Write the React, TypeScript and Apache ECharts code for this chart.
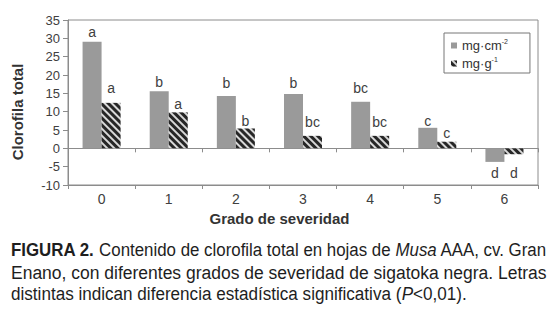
import React, { useEffect, useRef } from 'react';
import * as echarts from 'echarts';

const categories = ['0', '1', '2', '3', '4', '5', '6'];
const perArea = [29.1, 15.6, 14.3, 14.8, 12.7, 5.6, -3.7];
const perMass = [12.4, 9.8, 5.4, 3.4, 3.4, 1.8, -1.6];
const lettersArea = ['a', 'b', 'b', 'b', 'bc', 'c', 'd'];
const lettersMass = ['a', 'a', 'b', 'bc', 'bc', 'c', 'd'];
const seriesBase = ['mg·cm', 'mg·g'];
const seriesSup = ['-2', '-1'];
const seriesNames = ['mg·cm⁻²', 'mg·g⁻¹'];
const xTitle = 'Grado de severidad';
const yTitle = 'Clorofila total';

// label lift above/below bars (styling only)
const gapArea = [3, 2, 6, 4, 7, 0, 4];
const gapMass = [8, 1, 1, 7, 7, 2, 12];

type Seg = { t: string; s?: 'b' | 'i' };
const captionLines: Seg[][] = [
  [
    { t: 'FIGURA 2.', s: 'b' },
    { t: ' Contenido de clorofila total en hojas de ' },
    { t: 'Musa', s: 'i' },
    { t: ' AAA, cv. Gran' },
  ],
  [{ t: 'Enano, con diferentes grados de severidad de sigatoka negra. Letras' }],
  [
    { t: 'distintas indican diferencia estadística significativa (' },
    { t: 'P', s: 'i' },
    { t: '<0,01).' },
  ],
];

const FONT = '"Liberation Sans", Arial, sans-serif';
const CAP = 19;

export default function App() {
  const ref = useRef<HTMLDivElement>(null);
  useEffect(() => {
    const chart = echarts.init(ref.current!, null, { renderer: 'svg' });
    const ctx = document.createElement('canvas').getContext('2d')!;
    const measure = (segs: Seg[]) =>
      segs.reduce((w, s) => {
        ctx.font = `${s.s === 'i' ? 'italic ' : ''}${s.s === 'b' ? 'bold ' : ''}${CAP}px "Liberation Sans"`;
        return w + ctx.measureText(s.t).width;
      }, 0);
    const targets = [536, 536, 456];
    const ys = [250, 272, 294];
    const rich = {
      n: { fontSize: CAP, fontFamily: FONT, fill: '#1e1e1e' },
      b: { fontSize: CAP, fontFamily: FONT, fontWeight: 'bold', fill: '#1e1e1e' },
      i: { fontSize: CAP, fontFamily: FONT, fontStyle: 'italic', fill: '#1e1e1e' },
    };
    const graphic: any[] = captionLines.map((segs, i) => ({
      type: 'text',
      x: 11,
      y: ys[i],
      scaleX: targets[i] / measure(segs),
      style: {
        text: segs.map((s) => `{${s.s || 'n'}|${s.t}}`).join(''),
        rich,
        fontSize: CAP,
        fontFamily: FONT,
        fill: '#1e1e1e',
        align: 'left',
        verticalAlign: 'middle',
        textAlign: 'left',
        textVerticalAlign: 'middle',
      },
    }));
    graphic.push({
      type: 'text',
      x: 17,
      y: 112,
      rotation: Math.PI / 2,
      style: {
        text: yTitle,
        fontSize: 15,
        fontWeight: 'bold',
        fontFamily: FONT,
        fill: '#333',
        align: 'center',
        verticalAlign: 'middle',
        textAlign: 'center',
        textVerticalAlign: 'middle',
      },
    });

    const labelBase = { show: true, fontSize: 14, color: '#404040', fontFamily: FONT };
    const mkData = (vals: number[], gaps: number[]) =>
      vals.map((v, i) => ({
        value: v,
        label: { position: v < 0 ? 'bottom' : 'top', distance: gaps[i] },
      }));

    chart.setOption({
      animation: false,
      aria: { enabled: true, decal: { show: true } },
      grid: { left: 68, right: 14, top: 20, bottom: 127, show: true, borderColor: '#8c8c8c', borderWidth: 1 },
      legend: {
        left: 444,
        top: 33,
        orient: 'vertical',
        icon: 'rect',
        itemWidth: 6,
        itemHeight: 6,
        itemGap: 4,
        padding: [5, 22, 3, 7],
        borderColor: '#777',
        borderWidth: 1,
        data: seriesNames,
        formatter: (name: string) => {
          const i = seriesNames.indexOf(name);
          return `${seriesBase[i]}{s|${seriesSup[i]}}`;
        },
        textStyle: {
          fontSize: 13,
          color: '#333',
          fontFamily: FONT,
          rich: { s: { fontSize: 7, color: '#333', fontFamily: FONT, padding: [0, 0, 8, 0] } },
        },
      },
      xAxis: [
        {
          type: 'category',
          data: categories,
          position: 'bottom',
          axisLine: { show: true, onZero: false, lineStyle: { color: '#8c8c8c' } },
          axisTick: { show: true, length: 4, lineStyle: { color: '#8c8c8c' } },
          axisLabel: { fontSize: 14, color: '#404040', margin: 7, fontFamily: FONT },
          name: xTitle,
          nameLocation: 'middle',
          nameGap: 26,
          nameTextStyle: { fontWeight: 'bold', fontSize: 15, color: '#333', fontFamily: FONT, padding: [0, 47, 0, 0] },
        },
        {
          type: 'category',
          data: categories,
          position: 'bottom',
          axisLine: { show: true, onZero: true, lineStyle: { color: '#8c8c8c' } },
          axisTick: { show: true, length: 4, lineStyle: { color: '#8c8c8c' } },
          axisLabel: { show: false },
        },
      ],
      yAxis: {
        type: 'value',
        min: -10,
        max: 35,
        interval: 5,
        axisLine: { show: true, lineStyle: { color: '#8c8c8c' } },
        axisTick: { show: true, length: 5, lineStyle: { color: '#8c8c8c' } },
        splitLine: { show: false },
        axisLabel: { fontSize: 13, color: '#404040', margin: 8, fontFamily: FONT },
      },
      series: [
        {
          name: seriesNames[0],
          type: 'bar',
          xAxisIndex: 0,
          data: mkData(perArea, gapArea),
          barWidth: 19,
          barGap: '0%',
          itemStyle: { color: '#9a9a9a', decal: { symbol: 'none' } },
          label: { ...labelBase, formatter: (p: any) => lettersArea[p.dataIndex] },
        },
        {
          name: seriesNames[1],
          type: 'bar',
          xAxisIndex: 0,
          data: mkData(perMass, gapMass),
          barWidth: 19,
          barGap: '0%',
          itemStyle: {
            color: '#d8d8d8',
            decal: {
              symbol: 'rect',
              symbolSize: 1,
              dashArrayX: [1, 0],
              dashArrayY: [2.4, 1.2],
              rotation: Math.PI / 4,
              color: '#262626',
            },
          },
          label: { ...labelBase, formatter: (p: any) => lettersMass[p.dataIndex] },
        },
      ],
      graphic,
    });
    return () => chart.dispose();
  }, []);
  return <div ref={ref} style={{ position: 'absolute', left: 0, top: 0, width: 552, height: 312 }} />;
}
